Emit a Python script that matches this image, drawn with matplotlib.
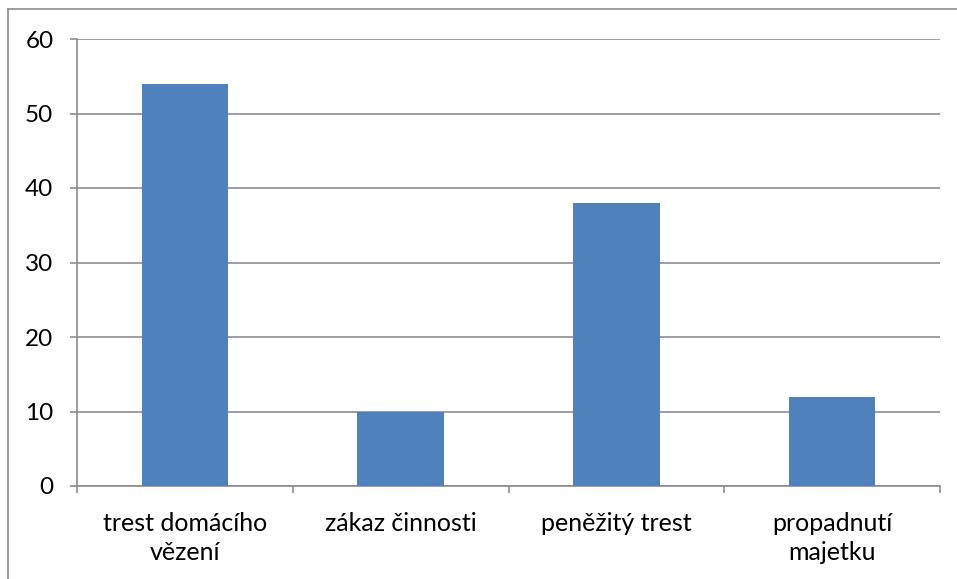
import matplotlib.pyplot as plt
from matplotlib.lines import Line2D

categories = ["trest domácího\nvězení", "zákaz činnosti", "peněžitý trest", "propadnutí\nmajetku"]
values = [54, 10, 38, 12]
y_ticks = [0, 10, 20, 30, 40, 50, 60]

plt.rcParams['font.family'] = ['Lato', 'DejaVu Sans']
grid_col = '#8c8c8c'
bar_col = '#4f81bd'

fig = plt.figure(figsize=(9.57, 5.79), dpi=100)
ax = fig.add_axes([77 / 957, 1 - 486 / 579, (940 - 77) / 957, (486 - 39) / 579])

x = list(range(len(categories)))
ax.bar(x, values, width=0.4, color=bar_col, zorder=3)

ax.set_xlim(-0.5, len(categories) - 0.5)
ax.set_ylim(0, 60)
ax.set_yticks(y_ticks)
ax.set_yticklabels([str(t) for t in y_ticks], fontsize=17.5)
ax.yaxis.grid(True, color=grid_col, linewidth=1.2, zorder=0)

# category labels centered, ticks at boundaries
ax.set_xticks(x)
ax.set_xticklabels(categories, fontsize=18, linespacing=1.3)
ax.tick_params(axis='x', length=0, pad=19)
ax.set_xticks([i - 0.5 for i in range(len(categories) + 1)], minor=True)
ax.tick_params(axis='x', which='minor', length=5, color=grid_col, width=1.2)
ax.tick_params(axis='y', length=5, color=grid_col, width=1.2, pad=12)

for side in ['top', 'right']:
    ax.spines[side].set_visible(False)
for side in ['left', 'bottom']:
    ax.spines[side].set_color(grid_col)
    ax.spines[side].set_linewidth(1.2)

# chart area border (cropped at right and bottom)
fig.add_artist(Line2D([8 / 957, 1], [1 - 9 / 579, 1 - 9 / 579], transform=fig.transFigure, color='#8c8c8c', linewidth=1.2))
fig.add_artist(Line2D([8 / 957, 8 / 957], [0, 1 - 9 / 579], transform=fig.transFigure, color='#8c8c8c', linewidth=1.2))

fig.savefig('out.png', dpi=100)
